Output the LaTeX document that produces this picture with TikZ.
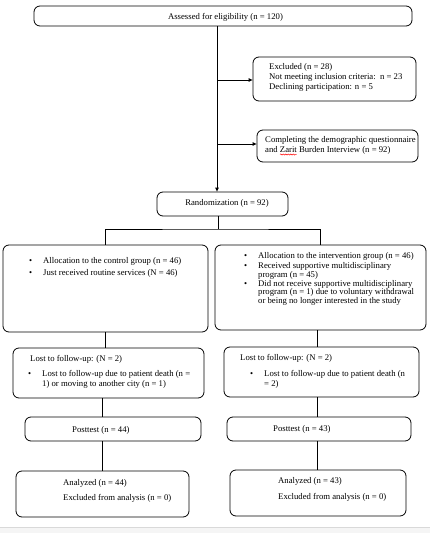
\documentclass[tikz,border=0pt]{standalone}
\usepackage{fontspec}
\setmainfont{Liberation Serif}
\usetikzlibrary{arrows.meta,decorations.pathmorphing}
\begin{document}
\begin{tikzpicture}[x=1pt,y=-1pt,
  box/.style={draw,rounded corners=6pt,line width=0.8pt,inner sep=0pt},
  txt/.style={anchor=base west,inner sep=0pt,font=\fontsize{8.7}{10}\selectfont},
  ctxt/.style={anchor=base,inner sep=0pt,font=\fontsize{8.7}{10}\selectfont},
  link/.style={line width=0.8pt},
  arr/.style={link,-{Triangle[length=4pt,width=3.5pt]}}]
\path[use as bounding box] (0,0) rectangle (430,533);
\fill[gray!8] (0,527) rectangle (430,533);
\draw[gray!30,line width=0.6pt] (0,527) -- (430,527);

% boxes
\node[box,minimum width=378pt,minimum height=20pt] (assess) at (223,16) {};
\node[box,minimum width=163pt,minimum height=44pt] (excl) at (334.5,79) {};
\node[box,minimum width=161pt,minimum height=32pt] (comp) at (337.5,146) {};
\node[box,minimum width=131pt,minimum height=24pt] (rand) at (222.5,204) {};
\node[box,minimum width=205pt,minimum height=87pt] (ctrl) at (105.5,288.5) {};
\node[box,minimum width=211pt,minimum height=85pt] (intv) at (320.5,287.5) {};
\node[box,minimum width=191pt,minimum height=50pt] (lostL) at (108.5,373) {};
\node[box,minimum width=195pt,minimum height=50pt] (lostR) at (321.5,372) {};
\node[box,minimum width=176pt,minimum height=24pt] (postL) at (113,429) {};
\node[box,minimum width=184pt,minimum height=24pt] (postR) at (319,429) {};
\node[box,minimum width=173pt,minimum height=46pt] (anL) at (102.5,494) {};
\node[box,minimum width=176pt,minimum height=46pt] (anR) at (318,493) {};

% texts
\node[ctxt] (tA) at (225.5,19) {Assessed for eligibility (n = 120)};
\node[txt] (tE1) at (269,69) {Excluded (n = 28)};
\node[txt] (tE2) at (269,79) {Not meeting inclusion criteria:\ \ n = 23};
\node[txt] (tE3) at (269,89) {Declining participation: n = 5};
\node[txt] (tC1) at (265,142) {Completing the demographic questionnaire};
\node[txt] (tC2) at (265,152) {and Zarit Burden Interview (n = 92)};
\node[ctxt] (tR) at (227,205) {Randomization (n = 92)};

\node[txt] (bc1) at (29,263) {•};
\node[txt] (tc1) at (43,263) {Allocation to the control group (n = 46)};
\node[txt] (bc2) at (29,275) {•};
\node[txt] (tc2) at (43,275) {Just received routine services (N = 46)};

\node[txt] (bi1) at (244,258) {•};
\node[txt] (ti1) at (258,258) {Allocation to the intervention group (n = 46)};
\node[txt] (bi2) at (244,268) {•};
\node[txt] (ti2) at (258,268) {Received supportive multidisciplinary};
\node[txt] (ti3) at (258,277) {program (n = 45)};
\node[txt] (bi3) at (244,286) {•};
\node[txt] (ti4) at (258,286) {Did not receive supportive multidisciplinary};
\node[txt] (ti5) at (258,294.5) {program (n = 1) due to voluntary withdrawal};
\node[txt] (ti6) at (258,303) {or being no longer interested in the study};

\node[txt] (tl1) at (30,361) {Lost to follow-up: (N = 2)};
\node[txt] (bl1) at (28,376) {•};
\node[txt] (tl2) at (42,376) {Lost to follow-up due to patient death (n =};
\node[txt] (tl3) at (42,386) {1) or moving to another city (n = 1)};

\node[txt] (tr1) at (240,360) {Lost to follow-up: (N = 2)};
\node[txt] (br1) at (250,376) {•};
\node[txt] (tr2) at (264,376) {Lost to follow-up due to patient death (n};
\node[txt] (tr3) at (264,386) {= 2)};

\node[txt] (tpL) at (72,432) {Posttest (n = 44)};
\node[txt] (tpR) at (273,431) {Posttest (n = 43)};

\node[txt] (taL1) at (63,485) {Analyzed (n = 44)};
\node[txt] (taL2) at (63,500) {Excluded from analysis (n = 0)};
\node[txt] (taR1) at (278,483) {Analyzed (n = 43)};
\node[txt] (taR2) at (278,499) {Excluded from analysis (n = 0)};

% spell-check squiggle under "Zarit"
\draw[red,line width=0.5pt,decorate,decoration={snake,amplitude=0.6pt,segment length=2.5pt}] (280,154.5) -- (296.5,154.5);

% connectors
\coordinate (spine) at (217,0);
\coordinate (j1) at (217,80);
\coordinate (j2) at (217,144);
\draw[arr] (assess.south -| spine) -- (rand.north -| spine);
\draw[arr] (j1) -- (j1 -| excl.west);
\draw[arr] (j2) -- (j2 -| comp.west);

\coordinate (split) at (218,229);
\draw[link] (rand.south -| split) -- (split);
\draw[link] (ctrl.north) |- (split) -| (intv.north);

\coordinate (colL) at (102,0);
\coordinate (colR) at (317,0);
\draw[link] (ctrl.south) -- (ctrl.south |- lostL.north);
\draw[link] (lostL.south -| colL) -- (postL.north -| colL);
\draw[link] (postL.south -| colL) -- (anL.north -| colL);
\draw[link] (intv.south -| colR) -- (lostR.north -| colR);
\draw[link] (lostR.south -| colR) -- (postR.north -| colR);
\draw[link] (postR.south -| colR) -- (anR.north -| colR);
\end{tikzpicture}
\end{document}
